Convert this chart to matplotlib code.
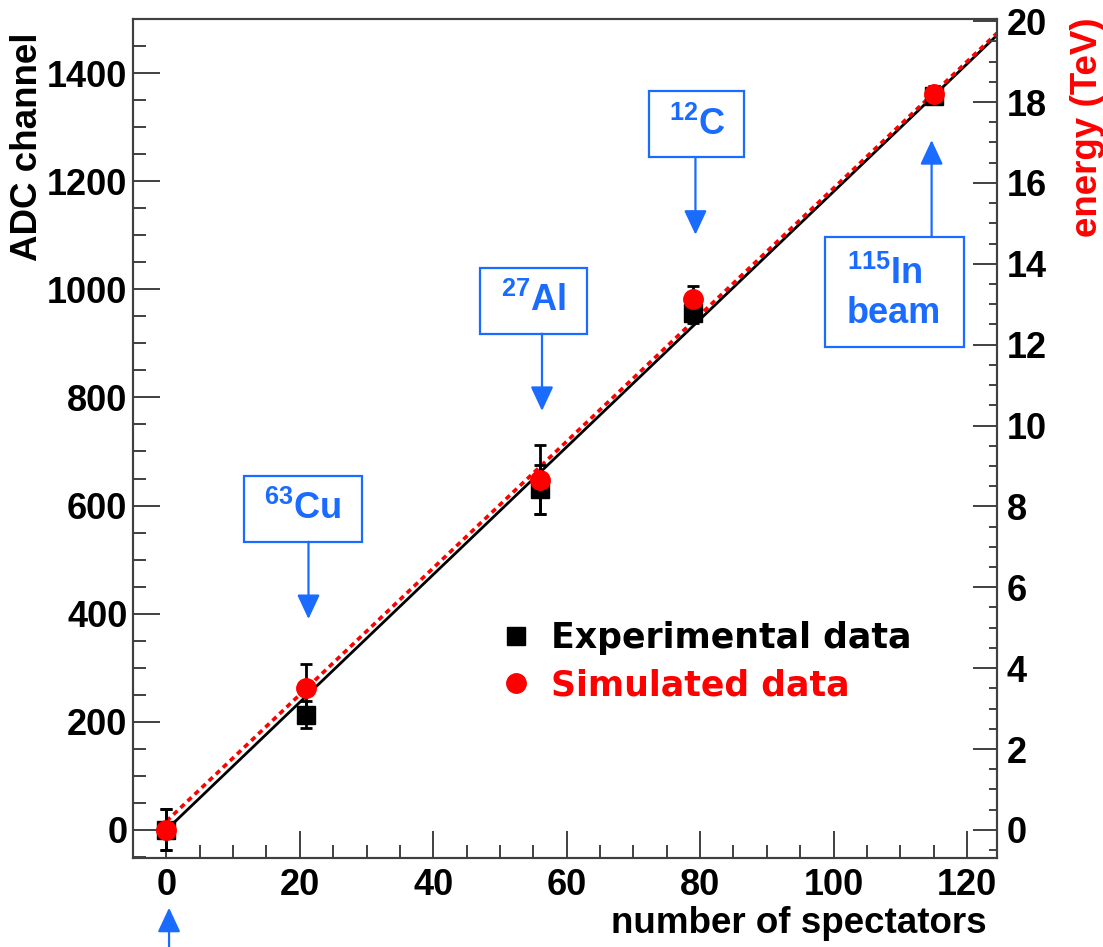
import numpy as np
import matplotlib
matplotlib.use("Agg")
import matplotlib.pyplot as plt
from matplotlib.patches import Rectangle
from matplotlib.ticker import MultipleLocator

plt.rcParams['font.family'] = 'Liberation Sans'
plt.rcParams['font.weight'] = 'bold'
plt.rcParams['mathtext.fontset'] = 'custom'
plt.rcParams['mathtext.rm'] = 'Liberation Sans:bold'
plt.rcParams['mathtext.bf'] = 'Liberation Sans:bold'

# ---- data ----
spectators = [0, 21, 56, 79, 115]
exp_adc = [0, 213, 630, 957, 1358]
exp_err = [38, 25, 45, 20, 15]
sim_adc = [0, 263, 648, 982, 1362]
sim_err = [38, 44, 64, 25, 15]

# fit lines (end points)
fit_x = [0, 124.5]
exp_fit = [0, 1470]
sim_fit = [16, 1474]

# annotation boxes: label, box (x0, x1, y0, y1), arrow tip y
labels = [r'$^{\mathbf{63}}$Cu', r'$^{\mathbf{27}}$Al', r'$^{\mathbf{12}}$C']
boxes = [(11.6, 29.25, 533, 655), (47.0, 63.0, 918, 1040), (72.4, 86.6, 1244, 1366)]
arrow_to = [390, 775, 1101]

blue = '#1a6bff'
red = '#ff0000'
spine_col = '#404040'

fig = plt.figure(figsize=(11.03, 9.47), dpi=100)
ax = fig.add_axes([0.1206, 0.0940, 0.7833, 0.8859])
ax.set_xlim(-5, 124.5)
ax.set_ylim(-52, 1500)

# fits
ax.plot(fit_x, exp_fit, color='black', lw=2.0, zorder=2)
ax.plot(fit_x, sim_fit, color=red, lw=2.6, linestyle=(0, (1.5, 1.2)), zorder=3)

# data with errors
ax.errorbar(spectators, exp_adc, yerr=exp_err, fmt='none', ecolor='black',
            elinewidth=2, capsize=4, capthick=2, zorder=4)
ax.errorbar(spectators, sim_adc, yerr=sim_err, fmt='none', ecolor='black',
            elinewidth=2, capsize=4, capthick=2, zorder=4)
h_exp, = ax.plot(spectators, exp_adc, 's', color='black', ms=13, zorder=5,
                 label='Experimental data')
h_sim, = ax.plot(spectators, sim_adc, 'o', color=red, ms=14, mec=red, zorder=6,
                 label='Simulated data')

# ticks / spines
for s in ax.spines.values():
    s.set_color(spine_col)
    s.set_linewidth(1.5)
ax.xaxis.set_major_locator(MultipleLocator(20))
ax.xaxis.set_minor_locator(MultipleLocator(5))
ax.yaxis.set_major_locator(MultipleLocator(200))
ax.yaxis.set_minor_locator(MultipleLocator(50))
ax.tick_params(which='both', direction='in', color=spine_col, width=1.4,
               labelsize=26, top=False, right=False)
ax.tick_params(which='major', length=19.5)
ax.tick_params(which='minor', length=9.5)
ax.tick_params(axis='y', pad=4)
ax.tick_params(axis='x', pad=7)

ax2 = ax.twinx()
ax2.set_ylim(-52 / 74.8, 1500 / 74.8)
ax2.yaxis.set_major_locator(MultipleLocator(2))
ax2.yaxis.set_minor_locator(MultipleLocator(0.5))
ax2.tick_params(which='both', direction='in', color=spine_col, width=1.4,
                labelsize=26, pad=7)
ax2.tick_params(which='major', length=17)
ax2.tick_params(which='minor', length=6)
for s in ax2.spines.values():
    s.set_color(spine_col)
    s.set_linewidth(1.5)

# axis titles
ax.text(-0.1227, 0.9845, 'ADC channel', transform=ax.transAxes, rotation=90,
        ha='center', va='top', fontsize=26.5, fontweight='bold')
ax.text(1.1042, 1.0024, 'energy (TeV)', transform=ax.transAxes, rotation=90,
        ha='center', va='top', fontsize=26.5, fontweight='bold', color=red)
ax.text(0.988, -0.0775, 'number of spectators', transform=ax.transAxes,
        ha='right', va='center', fontsize=26.5, fontweight='bold')

# annotation boxes with arrows
arrow_style = '-|>,head_length=15,head_width=7'
for lab, (x0, x1, y0, y1), xs, yt in zip(labels, boxes, spectators[1:4], arrow_to):
    ax.add_patch(Rectangle((x0, y0), x1 - x0, y1 - y0, fill=False, ec=blue,
                           lw=1.6, zorder=7))
    ax.text((x0 + x1) / 2, (y0 + y1) / 2, lab, color=blue, fontsize=26,
            ha='center', va='center', zorder=7)
    ax.annotate('', xy=(xs + 0.3, yt), xytext=(xs + 0.3, y0),
                arrowprops=dict(arrowstyle=arrow_style, color=blue, lw=1.6,
                                mutation_scale=1, shrinkA=0, shrinkB=0))

# 115In beam box
ax.add_patch(Rectangle((98.75, 893), 20.75, 204, fill=False, ec=blue, lw=1.6, zorder=7))
ax.text(102.0, 992, '$^{\\mathbf{115}}$In\nbeam', color=blue, fontsize=26,
        ha='left', va='center', multialignment='left', linespacing=1.15, zorder=7)
ax.annotate('', xy=(spectators[4] - 0.3, 1276), xytext=(spectators[4] - 0.3, 1097),
            arrowprops=dict(arrowstyle=arrow_style, color=blue, lw=1.6,
                            mutation_scale=1, shrinkA=0, shrinkB=0))

# arrow below the axis at zero
ax.annotate('', xy=(spectators[0] + 0.4, -144), xytext=(spectators[0] + 0.4, -230),
            arrowprops=dict(arrowstyle=arrow_style, color=blue, lw=1.6,
                            mutation_scale=1, shrinkA=0, shrinkB=0),
            annotation_clip=False)

# legend
leg = ax.legend(handles=[h_exp, h_sim], loc='center left',
                bbox_to_anchor=(0.423, 0.234), frameon=False,
                handlelength=1.0, handletextpad=0.5, labelspacing=0.38,
                borderpad=0, borderaxespad=0,
                prop={'family': 'DejaVu Sans', 'weight': 'bold', 'size': 25})
for t, c in zip(leg.get_texts(), ['black', red]):
    t.set_color(c)

fig.savefig('out.png', dpi=100)
